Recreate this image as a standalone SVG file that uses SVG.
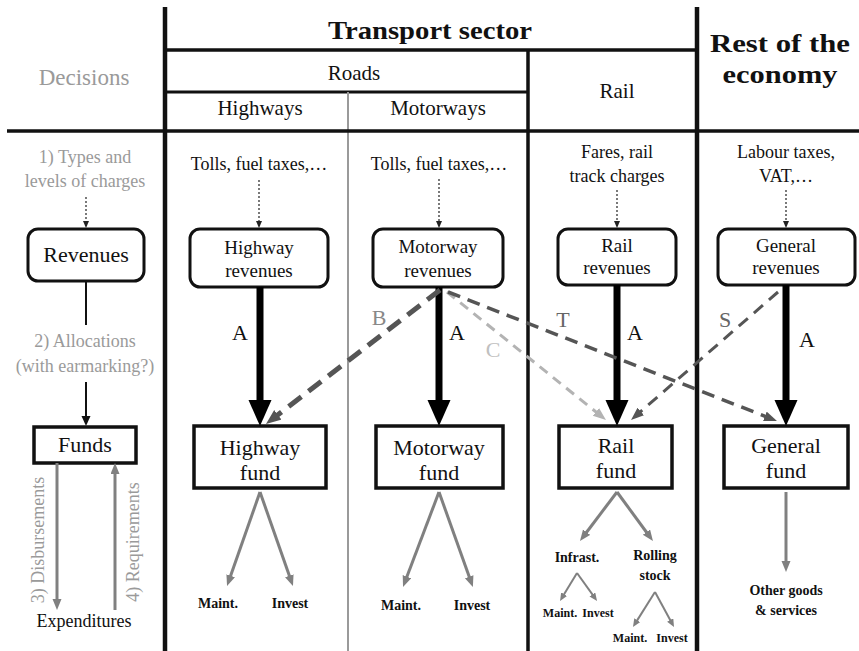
<svg xmlns="http://www.w3.org/2000/svg" width="859" height="651" viewBox="0 0 859 651" font-family="'Liberation Serif', 'Times New Roman', Tinos, 'DejaVu Serif', serif">
  <style>
    text { font-family: "Liberation Serif", "Times New Roman", Tinos, "DejaVu Serif", serif; fill: #111; }
    .grey { fill: #9a9a9a; }
    .hdr { font-weight: bold; font-size: 25px; text-anchor: middle; }
    .col { font-size: 21px; text-anchor: middle; }
    .src { font-size: 18px; text-anchor: middle; }
    .box { font-size: 19px; text-anchor: middle; }
    .fundt { font-size: 22px; text-anchor: middle; }
    .leaf { font-size: 14px; font-weight: bold; text-anchor: middle; }
    .leafs { font-size: 12px; font-weight: bold; text-anchor: middle; }
    .lbl { font-size: 22px; text-anchor: middle; }
    .rev { fill: #fff; stroke: #111; stroke-width: 3; }
    .fund { fill: #fff; stroke: #111; stroke-width: 3.5; }
    .grid { stroke: #111; fill: none; }
    .thick { stroke: #000; stroke-width: 7; marker-end: url(#mA); }
    .dot { stroke: #333; stroke-width: 1.3; stroke-dasharray: 2 2; marker-end: url(#mDot); }
    .gray { stroke: #808080; stroke-width: 3; marker-end: url(#mG); }
    .grays { stroke: #808080; stroke-width: 2; marker-end: url(#mGs); }
  </style>
  <defs>
    <marker id="mA" markerUnits="userSpaceOnUse" markerWidth="27" markerHeight="24" refX="0" refY="11.5" orient="auto">
      <path d="M0,0 L26,11.5 L0,23 z" fill="#000"/>
    </marker>
    <marker id="mG" markerUnits="userSpaceOnUse" markerWidth="12" markerHeight="10" refX="6" refY="4.5" orient="auto">
      <path d="M0,0 L11,4.5 L0,9 z" fill="#808080"/>
    </marker>
    <marker id="mGs" markerUnits="userSpaceOnUse" markerWidth="9" markerHeight="8" refX="4" refY="3.5" orient="auto">
      <path d="M0,0 L8,3.5 L0,7 z" fill="#808080"/>
    </marker>
    <marker id="mK" markerUnits="userSpaceOnUse" markerWidth="11" markerHeight="10" refX="6" refY="4.5" orient="auto">
      <path d="M0,0 L10,4.5 L0,9 z" fill="#111"/>
    </marker>
    <marker id="mDot" markerUnits="userSpaceOnUse" markerWidth="8" markerHeight="7" refX="5" refY="3" orient="auto">
      <path d="M0,0 L7,3 L0,6 z" fill="#222"/>
    </marker>
    <marker id="mB" markerUnits="userSpaceOnUse" markerWidth="16" markerHeight="13" refX="4" refY="6" orient="auto">
      <path d="M0,0 L15,6 L0,12 z" fill="#555"/>
    </marker>
    <marker id="mT" markerUnits="userSpaceOnUse" markerWidth="14" markerHeight="11" refX="4" refY="5" orient="auto">
      <path d="M0,0 L13,5 L0,10 z" fill="#555"/>
    </marker>
    <marker id="mC" markerUnits="userSpaceOnUse" markerWidth="14" markerHeight="11" refX="4" refY="5" orient="auto">
      <path d="M0,0 L13,5 L0,10 z" fill="#b3b3b3"/>
    </marker>
  </defs>

  <rect width="859" height="651" fill="#fff"/>

  <!-- table grid -->
  <g id="grid">
    <line class="grid" x1="165" y1="7" x2="165" y2="651" stroke-width="4.5"/>
    <line class="grid" x1="697" y1="7" x2="697" y2="651" stroke-width="4.5"/>
    <line class="grid" x1="165" y1="50" x2="697" y2="50" stroke-width="3.5"/>
    <line class="grid" x1="165" y1="92" x2="528" y2="92" stroke-width="3"/>
    <line class="grid" x1="528" y1="50" x2="528" y2="651" stroke-width="3.5"/>
    <line x1="348" y1="92" x2="348" y2="651" stroke="#9a9a9a" stroke-width="2"/>
    <line class="grid" x1="7" y1="131" x2="859" y2="131" stroke-width="3.5"/>
  </g>

  <!-- headers -->
  <g id="headers">
    <text class="grey" x="84" y="85" font-size="23" text-anchor="middle">Decisions</text>
    <text class="hdr" x="430" y="39" textLength="204" lengthAdjust="spacingAndGlyphs">Transport sector</text>
    <text class="hdr" x="780" y="52" textLength="140" lengthAdjust="spacingAndGlyphs">Rest of the</text>
    <text class="hdr" x="780" y="83" textLength="115" lengthAdjust="spacingAndGlyphs">economy</text>
    <text class="col" x="354" y="80" font-size="23">Roads</text>
    <text class="col" x="260" y="115">Highways</text>
    <text class="col" x="438" y="115" font-size="22">Motorways</text>
    <text class="col" x="617" y="98" font-size="23">Rail</text>
  </g>

  <!-- decision steps column -->
  <g id="steps">
    <text class="src grey" x="85" y="163">1) Types and</text>
    <text class="src grey" x="85" y="187">levels of charges</text>
    <text class="src grey" x="85" y="347">2) Allocations</text>
    <text class="src grey" x="85" y="372">(with earmarking?)</text>
    <text class="src grey" transform="translate(44,540) rotate(-90)">3) Disbursements</text>
    <text class="src grey" transform="translate(139,542) rotate(-90)">4) Requirements</text>
    <text class="src" x="84" y="627" font-size="19">Expenditures</text>
  </g>
  <g id="revenues">
    <rect class="rev" x="28" y="229" width="116" height="52" rx="10"/>
    <text class="fundt" x="86" y="262" font-size="21">Revenues</text>
  </g>
  <g id="funds">
    <rect class="fund" x="34" y="427" width="102" height="36"/>
    <text class="fundt" x="85" y="452" font-size="21">Funds</text>
  </g>

  <!-- source texts -->
  <g id="sources">
    <text class="src" x="259" y="170">Tolls, fuel taxes,…</text>
    <text class="src" x="439" y="170">Tolls, fuel taxes,…</text>
    <text class="src" x="617" y="158">Fares, rail</text>
    <text class="src" x="617" y="182">track charges</text>
    <text class="src" x="786" y="158">Labour taxes,</text>
    <text class="src" x="786" y="182">VAT,…</text>
  </g>

  <!-- revenue boxes -->
  <g id="highway-revenues">
    <rect class="rev" x="190" y="229" width="138" height="58" rx="10"/>
    <text class="box" x="259" y="254">Highway</text>
    <text class="box" x="259" y="277">revenues</text>
  </g>
  <g id="motorway-revenues">
    <rect class="rev" x="373" y="229" width="130" height="58" rx="10"/>
    <text class="box" x="438" y="253">Motorway</text>
    <text class="box" x="438" y="277">revenues</text>
  </g>
  <g id="rail-revenues">
    <rect class="rev" x="558" y="229" width="118" height="56" rx="10"/>
    <text class="box" x="617" y="252">Rail</text>
    <text class="box" x="617" y="274">revenues</text>
  </g>
  <g id="general-revenues">
    <rect class="rev" x="718" y="229" width="137" height="56" rx="10"/>
    <text class="box" x="786" y="252">General</text>
    <text class="box" x="786" y="274">revenues</text>
  </g>

  <!-- fund boxes -->
  <g id="highway-fund">
    <rect class="fund" x="194" y="426" width="132" height="62"/>
    <text class="fundt" x="260" y="455">Highway</text>
    <text class="fundt" x="260" y="480">fund</text>
  </g>
  <g id="motorway-fund">
    <rect class="fund" x="376" y="426" width="127" height="62"/>
    <text class="fundt" x="439" y="455">Motorway</text>
    <text class="fundt" x="439" y="480">fund</text>
  </g>
  <g id="rail-fund">
    <rect class="fund" x="559" y="426" width="113" height="62"/>
    <text class="fundt" x="616" y="453">Rail</text>
    <text class="fundt" x="616" y="478">fund</text>
  </g>
  <g id="general-fund">
    <rect class="fund" x="724" y="426" width="124" height="62"/>
    <text class="fundt" x="786" y="453">General</text>
    <text class="fundt" x="786" y="478">fund</text>
  </g>

  <!-- spending categories -->
  <g id="spending">
    <text class="leaf" x="218" y="608">Maint.</text>
    <text class="leaf" x="290" y="608">Invest</text>
    <text class="leaf" x="401" y="610">Maint.</text>
    <text class="leaf" x="472" y="610">Invest</text>
    <text class="leaf" x="577" y="562" font-size="15">Infrast.</text>
    <text class="leaf" x="655" y="560" font-size="16">Rolling</text>
    <text class="leaf" x="655" y="580" font-size="16">stock</text>
    <text class="leafs" x="560" y="617">Maint.</text>
    <text class="leafs" x="598" y="617">Invest</text>
    <text class="leafs" x="630" y="642">Maint.</text>
    <text class="leafs" x="672" y="642">Invest</text>
    <text class="leaf" x="786" y="595" font-size="16">Other goods</text>
    <text class="leaf" x="786" y="615" font-size="16">&amp; services</text>
  </g>

  <!-- connectors -->
  <g id="connectors">
    <!-- charges into revenues -->
    <line class="dot" x1="86" y1="197" x2="86" y2="226"/>
    <line class="dot" x1="259" y1="180" x2="259" y2="226"/>
    <line class="dot" x1="439" y1="179" x2="439" y2="226"/>
    <line class="dot" x1="617" y1="190" x2="617" y2="226"/>
    <line class="dot" x1="786" y1="190" x2="786" y2="226"/>

    <!-- decision column -->
    <line x1="86" y1="281" x2="86" y2="325" stroke="#111" stroke-width="2"/>
    <line x1="86" y1="382" x2="86" y2="422" stroke="#111" stroke-width="2" marker-end="url(#mK)"/>
    <line class="gray" x1="57" y1="463" x2="57" y2="605"/>
    <line class="gray" x1="115" y1="610" x2="115" y2="468"/>

    <!-- A: direct allocation -->
    <line class="thick" x1="260" y1="287" x2="260" y2="400"/>
    <line class="thick" x1="439" y1="287" x2="439" y2="400"/>
    <line class="thick" x1="617" y1="285" x2="617" y2="400"/>
    <line class="thick" x1="786" y1="285" x2="786" y2="400"/>

    <!-- cross allocations -->
    <line x1="440" y1="290" x2="274.7" y2="417.3" stroke="#555" stroke-width="5" stroke-dasharray="16 9" marker-end="url(#mB)"/>
    <line x1="447" y1="292" x2="599" y2="414.4" stroke="#b3b3b3" stroke-width="3" stroke-dasharray="10 7" marker-end="url(#mC)"/>
    <line x1="448" y1="292" x2="768.6" y2="417.7" stroke="#555" stroke-width="3.5" stroke-dasharray="13 8" marker-end="url(#mT)"/>
    <line x1="778" y1="292" x2="637.8" y2="414.1" stroke="#555" stroke-width="3" stroke-dasharray="12 8" marker-end="url(#mT)"/>

    <!-- fund disbursements -->
    <line class="gray" x1="260" y1="492" x2="228.7" y2="581.3"/>
    <line class="gray" x1="260" y1="492" x2="291.3" y2="581.3"/>
    <line class="gray" x1="439" y1="492" x2="404.8" y2="582.3"/>
    <line class="gray" x1="439" y1="492" x2="471.2" y2="582.3"/>
    <line class="gray" x1="617" y1="492" x2="583" y2="537"/>
    <line class="gray" x1="617" y1="492" x2="650" y2="537"/>
    <line class="grays" x1="577" y1="573" x2="562.1" y2="597.6"/>
    <line class="grays" x1="577" y1="573" x2="594.7" y2="597.7"/>
    <line class="grays" x1="655" y1="592" x2="635.1" y2="623.6"/>
    <line class="grays" x1="655" y1="592" x2="672.1" y2="623.5"/>
    <line class="gray" x1="786" y1="492" x2="786" y2="567"/>
  </g>

  <!-- connector labels -->
  <g id="labels">
    <text class="lbl" x="240" y="340">A</text>
    <text class="lbl" x="457" y="340">A</text>
    <text class="lbl" x="635" y="340">A</text>
    <text class="lbl" x="807" y="347">A</text>
    <text class="lbl" x="379" y="325" style="fill:#888">B</text>
    <text class="lbl" x="493" y="357" style="fill:#c0c0c0">C</text>
    <text class="lbl" x="563" y="327" style="fill:#666">T</text>
    <text class="lbl" x="725" y="327" style="fill:#666">S</text>
  </g>
</svg>
